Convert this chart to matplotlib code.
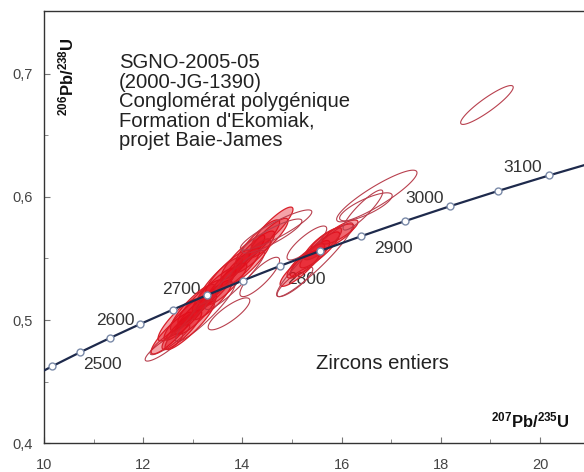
import numpy as np
import matplotlib
matplotlib.use("Agg")
import matplotlib.pyplot as plt

plt.rcParams['font.family'] = ['Liberation Sans', 'DejaVu Sans']
plt.rcParams['mathtext.fontset'] = 'custom'
plt.rcParams['mathtext.rm'] = 'Liberation Sans'
plt.rcParams['mathtext.bf'] = 'Liberation Sans:bold'

# concordia points every 50 Ma
ages = [2400, 2450, 2500, 2550, 2600, 2650, 2700, 2750, 2800, 2850,
        2900, 2950, 3000, 3050, 3100, 3150]
conc_x = [9.630, 10.166, 10.730, 11.322, 11.944, 12.597, 13.283, 14.004,
          14.762, 15.557, 16.393, 17.271, 18.193, 19.162, 20.180, 21.249]
conc_y = [0.4511, 0.4624, 0.4738, 0.4852, 0.4968, 0.5084, 0.5202, 0.5320,
          0.5440, 0.5560, 0.5681, 0.5803, 0.5926, 0.6050, 0.6175, 0.6301]

# labelled ages and where their text sits
label_ages = ["2500", "2600", "2700", "2800", "2900", "3000", "3100"]
label_x = [11.17, 11.43, 12.78, 15.30, 17.04, 17.68, 19.66]
label_y = [0.4642, 0.5000, 0.5244, 0.5333, 0.5585, 0.5984, 0.6236]

# zircon analyses: 207Pb/235U, 206Pb/238U, 2-sigma errors, correlation
ell_x = [12.42, 12.54, 12.58, 12.78, 12.86, 13.06, 13.15, 13.39, 13.43, 13.67,
         13.71, 13.95, 14.01, 14.23, 14.31, 14.52, 14.60, 13.25, 13.85, 12.94,
         14.68, 14.60, 13.73, 14.35, 15.06, 15.16, 15.36, 15.56, 15.81, 15.30,
         15.46, 15.97, 16.71, 16.49, 16.43, 18.93,
         13.00, 13.55, 14.15, 12.70, 15.28, 15.62]
ell_y = [0.478, 0.484, 0.4894, 0.4919, 0.5016, 0.5049, 0.5146, 0.5163, 0.5244, 0.5293,
         0.5390, 0.5423, 0.5512, 0.5553, 0.5634, 0.5667, 0.5748, 0.5065, 0.5325, 0.4959,
         0.5732, 0.5683, 0.505, 0.535, 0.531, 0.542, 0.550, 0.557, 0.5667, 0.5626,
         0.549, 0.5715, 0.6008, 0.592, 0.5894, 0.6748,
         0.510, 0.532, 0.548, 0.500, 0.548, 0.562]
ell_sx = [0.38, 0.40, 0.42, 0.40, 0.44, 0.42, 0.45, 0.40, 0.44, 0.42,
          0.45, 0.40, 0.44, 0.42, 0.44, 0.40, 0.42, 0.60, 0.60, 0.50,
          0.72, 0.60, 0.42, 0.40, 0.36, 0.40, 0.40, 0.40, 0.44, 0.40,
          0.77, 0.36, 0.81, 0.53, 0.40, 0.53,
          0.45, 0.45, 0.42, 0.40, 0.38, 0.38]
ell_sy = [0.0114, 0.0122, 0.017, 0.016, 0.018, 0.017, 0.018, 0.016, 0.018, 0.017,
          0.018, 0.016, 0.018, 0.017, 0.018, 0.016, 0.017, 0.024, 0.024, 0.020,
          0.0163, 0.0138, 0.013, 0.016, 0.012, 0.0146, 0.0146, 0.0146, 0.0114, 0.0138,
          0.030, 0.0098, 0.021, 0.0114, 0.0163, 0.0158,
          0.019, 0.019, 0.018, 0.017, 0.014, 0.013]
ell_rho = [0.88, 0.90, 0.89, 0.87, 0.89, 0.87, 0.89, 0.87, 0.89, 0.87,
           0.89, 0.87, 0.89, 0.87, 0.89, 0.87, 0.89, 0.93, 0.93, 0.90,
           0.90, 0.88, 0.83, 0.84, 0.86, 0.87, 0.87, 0.87, 0.83, 0.84,
           0.94, 0.83, 0.90, 0.80, 0.90, 0.91,
           0.88, 0.88, 0.88, 0.88, 0.85, 0.85]
# analyses kept in the main population (shaded) vs. the rest (outline only)
ell_used = [False, False, True, True, True, True, True, True, True, True,
            True, True, True, True, True, True, True, False, False, True,
            False, False, False, False, False, True, True, True, True, False,
            False, True, False, False, False, False,
            True, True, True, True, True, True]

x_ticks = [10, 12, 14, 16, 18, 20]
y_ticks = [0.4, 0.5, 0.6, 0.7]
y_ticklabels = ["0,4", "0,5", "0,6", "0,7"]

fig = plt.figure(figsize=(5.84, 4.72), dpi=100)
ax = fig.add_axes([0.0753, 0.0614, 0.9247, 0.9153])

t = np.linspace(0, 2 * np.pi, 120)
for cx, cy, sx, sy, r, used in zip(ell_x, ell_y, ell_sx, ell_sy, ell_rho, ell_used):
    ex = cx + sx * np.cos(t)
    ey = cy + sy * (r * np.cos(t) + np.sqrt(1 - r ** 2) * np.sin(t))
    if used:
        ax.fill(ex, ey, facecolor=(0.9, 0.05, 0.1, 0.38), edgecolor='#d8202a',
                linewidth=0.9, zorder=3)
    else:
        ax.fill(ex, ey, facecolor='none', edgecolor='#b8404e',
                linewidth=0.8, zorder=3)

ax.plot(conc_x, conc_y, color='#1e2a4c', linewidth=1.6, zorder=4)
ax.plot(conc_x, conc_y, linestyle='none', marker='o', markersize=5,
        markerfacecolor='white', markeredgecolor='#7a8aa8', markeredgewidth=1.0,
        zorder=5)

for lab, lx, ly in zip(label_ages, label_x, label_y):
    ax.text(lx, ly, lab, fontsize=12.5, color='#333333', ha='center',
            va='center', zorder=2)

ax.text(0.139, 0.902, "SGNO-2005-05\n(2000-JG-1390)\nConglomérat polygénique\n"
        "Formation d'Ekomiak,\nprojet Baie-James", transform=ax.transAxes,
        fontsize=14.6, color='#222222', ha='left', va='top', linespacing=1.03)
ax.text(16.83, 0.465, "Zircons entiers", fontsize=14.6, color='#222222',
        ha='center', va='center')
ax.text(19.8, 0.418, r'$\mathbf{^{207}Pb/^{235}U}$', fontsize=12,
        ha='center', va='center', color='#111111')
ax.text(10.46, 0.6976, r'$\mathbf{^{206}Pb/^{238}U}$', fontsize=12,
        rotation=90, ha='center', va='center', color='#111111')

ax.set_xlim(10, 20.887)
ax.set_ylim(0.4, 0.7512)
ax.set_xticks(x_ticks)
ax.set_xticks([11, 13, 15, 17, 19], minor=True)
ax.set_yticks(y_ticks)
ax.set_yticklabels(y_ticklabels)
ax.set_yticks([0.45, 0.55, 0.65], minor=True)
ax.tick_params(which='both', direction='in', color='#777777', labelcolor='#444444',
               labelsize=10.5)
ax.tick_params(axis='x', which='both', pad=11)
ax.tick_params(axis='y', which='both', pad=8)
ax.tick_params(which='major', length=4)
ax.tick_params(which='minor', length=3)
ax.spines['right'].set_visible(False)
for s in ['left', 'bottom', 'top']:
    ax.spines[s].set_color('#333333')
    ax.spines[s].set_linewidth(1.0)

fig.savefig("out.png", dpi=100)
